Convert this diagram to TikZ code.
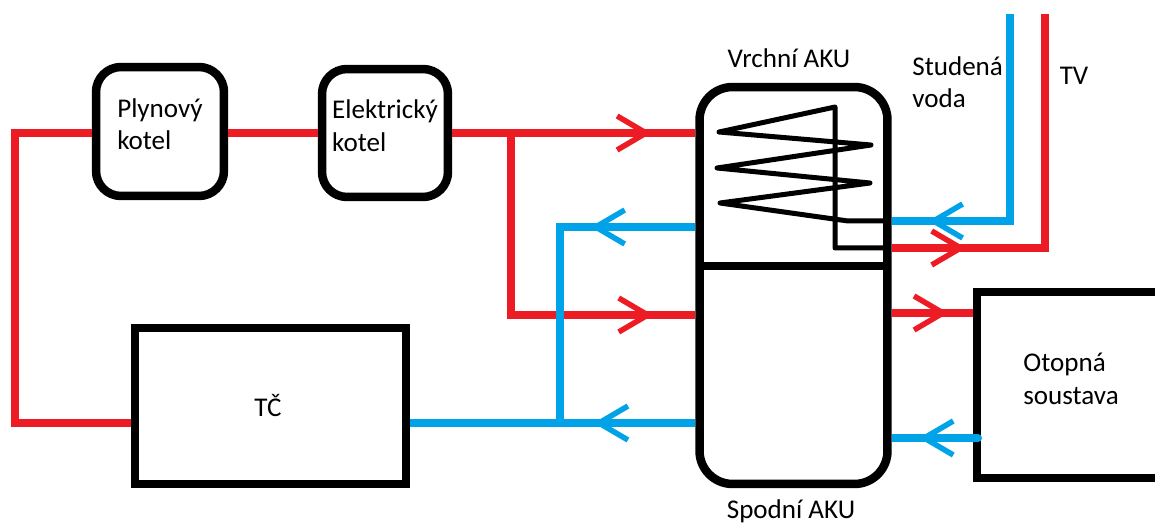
\documentclass[tikz,border=0pt]{standalone}
\usepackage{fontspec}
\setmainfont{Carlito}
\usepackage{xcolor}
\usetikzlibrary{arrows.meta,decorations.markings}
\definecolor{cHot}{HTML}{ED1C24}
\definecolor{cCold}{HTML}{00A2E8}
\tikzset{
  barbTip/.tip={Straight Barb[length=0.58cm,width=0.68cm,line width=0.11cm]},
  flow/.style={postaction={decorate},decoration={markings,mark=at position #1 with {\arrow{barbTip}}}},
  pipeHot/.style={cHot,line width=0.16cm},
  pipeCold/.style={cCold,line width=0.16cm},
  boxRound/.style={draw,line width=0.17cm,rounded corners=0.5cm,align=left,inner sep=0pt},
  boxSharp/.style={draw,line width=0.17cm,align=left,inner sep=0pt},
  lbl/.style={align=left,inner sep=0pt,font=\fontsize{15.4pt}{18.4pt}\selectfont},
}
\begin{document}
\begin{tikzpicture}[x=0.02cm,y=-0.02cm]
  \useasboundingbox (0,0) rectangle (1155,523);
  % boxes
  \node[boxRound,lbl,draw,text depth=0.3cm,minimum width=2.56cm,minimum height=2.58cm] (plyn) at (160,131.5) {Plynový\\kotel};
  \node[boxRound,lbl,draw,text depth=0.3cm,minimum width=2.52cm,minimum height=2.56cm] (elek) at (385,133) {Elektrický\\kotel};
  \node[boxSharp,lbl,draw,minimum width=5.42cm,minimum height=3.12cm] (tc) at (270.5,406) {TČ\hspace{0.1cm}};
  \node[boxRound,rounded corners=0.66cm,minimum width=3.76cm,minimum height=7.94cm] (aku) at (793.5,285.5) {};
  \node[boxSharp,minimum width=5cm,minimum height=3.72cm] (otop) at (1102,385) {};
  \draw[line width=0.17cm,shorten <=0.08cm,shorten >=0.08cm] (aku.west |- 0,266) -- (aku.east |- 0,266);
  % labels
  \node[lbl] (lVrch) at (789,58) {Vrchní AKU};
  \node[lbl,anchor=south] (lSpod) at (791,523) {Spodní AKU};
  \node[lbl,anchor=west] (lStud) at (912,82) {Studená\\voda};
  \node[lbl] (lTv) at (1074,76) {TV};
  \node[lbl,anchor=west] (lOtop) at (1023,379) {Otopná\\soustava};
  % pipes
  \coordinate (branchHot) at (511,133);
  \coordinate (branchCold) at (560,423);
  \draw[pipeHot] (tc.west |- 0,423) -| (15,133) -- (plyn.west |- 0,133);
  \draw[pipeHot] (plyn.east |- 0,133) -- (elek.west);
  \draw[pipeHot,flow=0.82] (elek.east) -- (aku.west |- 0,133);
  \draw[pipeHot,flow=0.885] (branchHot) -- (511,315) -- (aku.west |- 0,315);
  \draw[pipeCold,flow=0.357] (aku.west |- 0,423) -- (tc.east |- 0,423);
  \draw[pipeCold,flow=0.317] (aku.west |- 0,227) -- (560,227) -- (branchCold);
  \draw[pipeCold,flow=0.888] (1010,14) -- (1010,221) -- (aku.east |- 0,221);
  \draw[pipeHot,flow=0.192] (aku.east |- 0,248) -- (1045,248) -- (1045,14);
  \draw[pipeHot,flow=0.70] (aku.east |- 0,313) -- (otop.west |- 0,313);
  \draw[pipeCold,flow=0.70,{Round Cap[]}-] (982,438) -- (aku.east |- 0,438);
  % coil
  \draw[line width=0.1cm,line join=round] (885,221) -- (848,221) -- (720,203) -- (870,183) -- (717,168) -- (871,145) -- (719,132) -- (835,107) -- (835,248) -- (885,248);
\end{tikzpicture}
\end{document}
